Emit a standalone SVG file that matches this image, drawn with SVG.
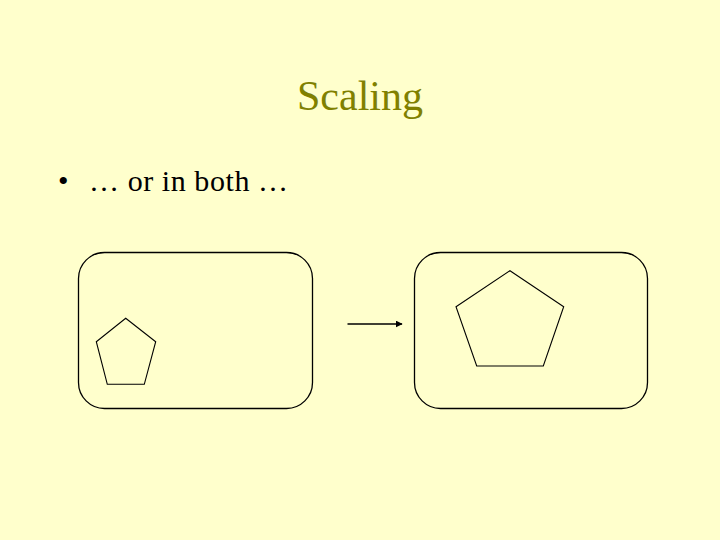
<svg xmlns="http://www.w3.org/2000/svg" width="720" height="540" viewBox="0 0 720 540">
<style>
.frame{fill:none;stroke:#000;stroke-width:1.3}
.shape{fill:none;stroke:#000;stroke-width:1.1}
.title{font-family:"Liberation Serif","Times New Roman",serif;font-size:42px;fill:#808000}
.body{font-family:"Liberation Serif","Times New Roman",serif;font-size:30px;fill:#000}
</style>
<defs>
<marker id="ah" viewBox="0 0 10 10" refX="9" refY="5" markerWidth="7" markerHeight="7" orient="auto" markerUnits="userSpaceOnUse">
<path d="M0,0 L10,5 L0,10 z" fill="#000"/>
</marker>
</defs>
<rect width="720" height="540" fill="#FFFFCC"/>
<text class="title" x="360" y="110" text-anchor="middle">Scaling</text>
<text class="body" x="58" y="191">•</text>
<text class="body" x="89" y="191" textLength="199" lengthAdjust="spacing">… or in both …</text>
<g id="before">
<rect class="frame" x="78.5" y="252.5" width="234" height="156" rx="26" ry="26"/>
<polygon class="shape" points="125.7,318.3 155.7,341.7 144.3,384.3 107.3,384.3 96.3,341.7"/>
</g>
<g id="after">
<rect class="frame" x="414.5" y="252.5" width="233" height="156" rx="26" ry="26"/>
<polygon class="shape" points="510,270.7 563.7,306.7 543.3,366 476.7,366 456,306.7"/>
</g>
<g id="connectors">
<line x1="347.5" y1="324" x2="402" y2="324" stroke="#000" stroke-width="1.5" marker-end="url(#ah)"/>
</g>
</svg>
